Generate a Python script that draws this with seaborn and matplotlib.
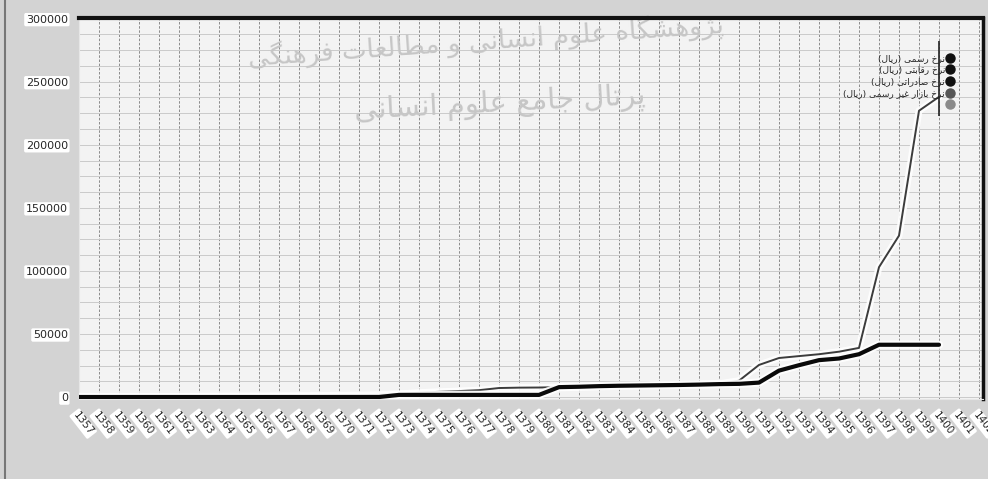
import numpy as np
import pandas as pd
import matplotlib
matplotlib.use('Agg')
import matplotlib.pyplot as plt
import matplotlib.patheffects as pe
from matplotlib.lines import Line2D
import seaborn as sns

# years (solar hijri) and exchange rates, rial per dollar
years = list(range(1357, 1401))
nerkh_rasmi = [70]*16 + [1750]*8 + [7900, 8200, 8700, 9000, 9200, 9400, 9600, 9900, 10300, 10500,
                                    11500, 21000, 25300, 29300, 30600, 34000, 41500, 41500, 41500, 41500]
nerkh_bazar = [100, 150, 250, 350, 450, 550, 650, 700, 800, 900, 1000, 1100, 1200, 1400, 1500, 1800,
               2500, 3500, 4200, 4800, 5500, 7200, 7500, 7600, 7900, 8300, 8700, 9000, 9200, 9400,
               9700, 10000, 10500, 13000, 25500, 31000, 32500, 34000, 36000, 39000, 103000, 128000,
               227000, 238000]
spike_1400 = [223000, 282000]

labels = ['نرخ رسمی (ریال)', 'نرخ رقابتی (ریال)', 'نرخ صادراتی (ریال)', 'نرخ بازار غیر رسمی (ریال)', '']
dot_colors = ['#111111', '#111111', '#111111', '#555555', '#8a8a8a']
watermark = ['پژوهشگاه علوم انسانی و مطالعات فرهنگی', 'پرتال جامع علوم انسانی']
xtick_years = list(range(1357, 1403))
yticks = [0, 50000, 100000, 150000, 200000, 250000, 300000]

# matplotlib does no arabic shaping -> pick presentation forms by hand
BASE = {'ا': 0xFE8D, 'ب': 0xFE8F, 'ت': 0xFE95, 'ج': 0xFE9D, 'خ': 0xFEA5, 'د': 0xFEA9, 'ر': 0xFEAD,
        'ز': 0xFEAF, 'س': 0xFEB1, 'ش': 0xFEB5, 'ص': 0xFEB9, 'ط': 0xFEC1, 'ع': 0xFEC9, 'غ': 0xFECD,
        'ف': 0xFED1, 'ق': 0xFED5, 'ک': 0xFB8E, 'ل': 0xFEDD, 'م': 0xFEE1, 'ن': 0xFEE5, 'ه': 0xFEE9,
        'و': 0xFEED, 'پ': 0xFB56, 'ژ': 0xFB8A, 'گ': 0xFB92, 'ی': 0xFBFC}
RIGHT_ONLY = set('ادرزژو')

def fa(text):
    out = []
    for i, ch in enumerate(text):
        if ch not in BASE:
            out.append(ch)
            continue
        prev = text[i-1] if i > 0 else ''
        nxt = text[i+1] if i+1 < len(text) else ''
        jp = prev in BASE and prev not in RIGHT_ONLY
        jn = nxt in BASE and ch not in RIGHT_ONLY
        form = (3 if jp else 2) if jn else (1 if jp else 0)
        out.append(chr(BASE[ch] + form))
    return ''.join(reversed(out)).translate(str.maketrans('()', ')('))

df = pd.DataFrame({'year': years, 'rasmi': nerkh_rasmi, 'bazar': nerkh_bazar})

sns.set_style('white')
plt.rcParams['font.family'] = ['DejaVu Sans']

fig = plt.figure(figsize=(9.88, 4.79), dpi=100, facecolor='#d3d3d3')
ax = fig.add_axes([79/988, 1-399/479, 904/988, 381/479])
ax.set_facecolor('#f3f3f3')

# faint watermark of the source site
ax.text(0.45, 0.94, fa(watermark[0]), transform=ax.transAxes, fontsize=19, color='#c6c6c6',
        ha='center', va='center', rotation=4, zorder=1)
ax.text(0.465, 0.775, fa(watermark[1]), transform=ax.transAxes, fontsize=21, color='#c6c6c6',
        ha='center', va='center', rotation=3, zorder=1)

sns.lineplot(data=df, x='year', y='bazar', ax=ax, color='#3c3c3c', linewidth=1.4, zorder=4)
ax.lines[-1].set_path_effects([pe.withStroke(linewidth=5, foreground='white', alpha=0.9)])
sns.lineplot(data=df, x='year', y='rasmi', ax=ax, color='#0a0a0a', linewidth=3, zorder=5)
ax.lines[-1].set_path_effects([pe.withStroke(linewidth=6, foreground='white', alpha=0.9)])
ax.vlines(years[-1], spike_1400[0], spike_1400[1], color='#222222', linewidth=1.2, zorder=5)

ax.set_xlim(1357, 1402.2)
ax.set_ylim(-1500, 300500)

ax.set_xticks(xtick_years)
ax.set_xticklabels([str(y) for y in xtick_years], rotation=-52, ha='left', va='top',
                   rotation_mode='anchor', fontsize=7.5)
ax.set_yticks(yticks)
ax.set_yticklabels([str(v) for v in yticks], fontsize=8)
ax.set_yticks(np.arange(0, 300001, 12500), minor=True)
for lab in ax.get_xticklabels() + ax.get_yticklabels():
    lab.set_bbox(dict(boxstyle='round,pad=0.15', fc='white', ec='none'))
ax.tick_params(axis='x', length=0, pad=8)
ax.tick_params(axis='y', length=0, pad=8)

ax.grid(axis='x', which='major', color='#7a7a7a', linestyle=(0, (3, 2)), linewidth=0.6)
ax.grid(axis='y', which='both', color='#cacaca', linestyle='-', linewidth=0.7)
ax.set_axisbelow(True)
ax.set_xlabel(None)
ax.set_ylabel(None)

ax.spines['top'].set_linewidth(3)
ax.spines['top'].set_color('#111111')
ax.spines['right'].set_linewidth(2.5)
ax.spines['right'].set_color('#111111')
ax.spines['left'].set_color('#e6e6e6')
ax.spines['bottom'].set_color('#e6e6e6')

handles = [Line2D([], [], marker='o', linestyle='none', markersize=6.5, color=c) for c in dot_colors]
leg = ax.legend(handles, [fa(l) for l in labels], markerfirst=False, fontsize=6.5,
                loc='upper right', bbox_to_anchor=(0.975, 0.925), frameon=False,
                handletextpad=0.1, labelspacing=0.3, borderpad=0.3, handlelength=0.8)
leg.set_zorder(6)

fig.add_artist(Line2D([5/988, 5/988], [0, 1], color='#777777', linewidth=1.5))

fig.savefig('out.png', dpi=100, facecolor=fig.get_facecolor())
